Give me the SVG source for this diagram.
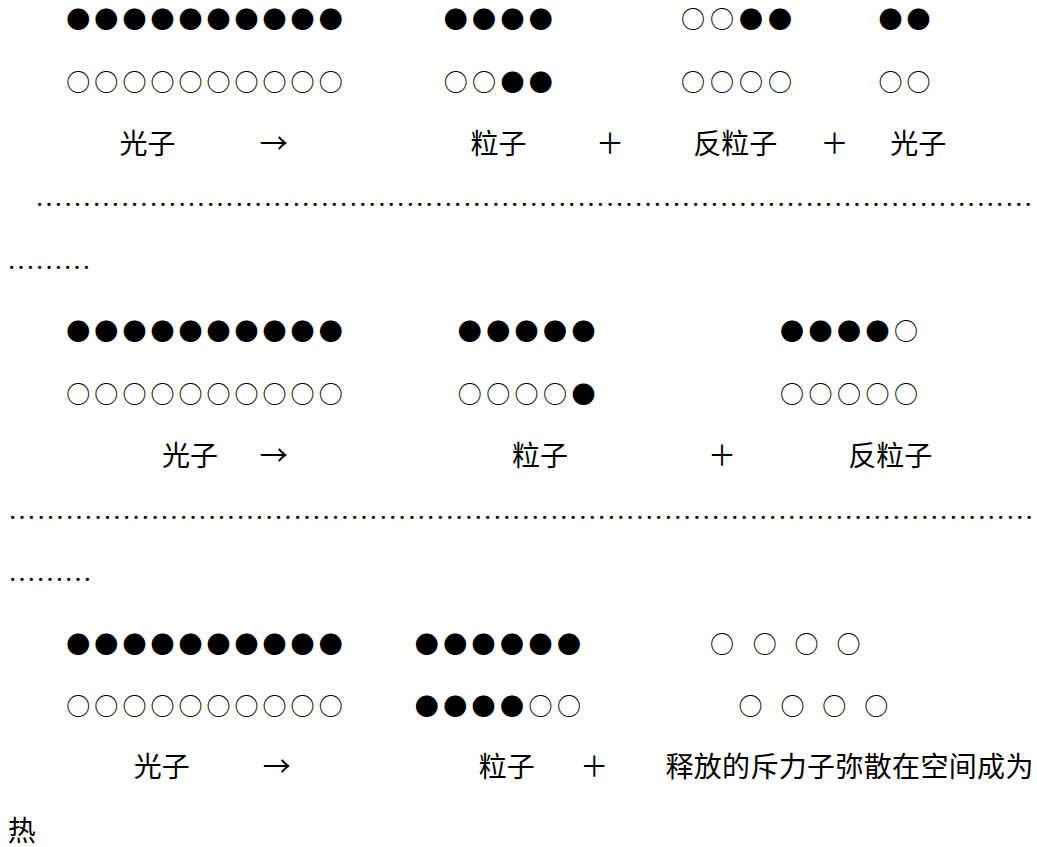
<svg xmlns="http://www.w3.org/2000/svg" width="1037" height="847" viewBox="0 0 1037 847">
<style>
.t{font-family:"Noto Sans CJK SC","Noto Sans CJK JP",sans-serif;font-size:28px;fill:#000;}
.m{text-anchor:middle;}
.c{font-family:"Noto Sans CJK SC","Noto Sans CJK JP",sans-serif;font-size:24px;fill:#000;text-anchor:middle;}
.d{font-family:"Liberation Serif","Times New Roman",serif;font-size:28px;fill:#000;}
</style>
<rect width="1037" height="847" fill="#fff"/>
<g id="block1">
  <g id="b1-row1">
    <text class="c" x="78.3 106.3 134.4 162.4 190.5 218.5 246.5 274.6 302.6 330.7" y="28.3">●●●●●●●●●●</text>
    <text class="c" x="455.8 484.1 512.4 540.7" y="28.3">●●●●</text>
    <text class="c" x="693 722 751 780" y="28.3">○○●●</text>
    <text class="c" x="890.4 918.5" y="28.3">●●</text>
  </g>
  <g id="b1-row2">
    <text class="c" x="78.3 106.3 134.4 162.4 190.5 218.5 246.5 274.6 302.6 330.7" y="90.8">○○○○○○○○○○</text>
    <text class="c" x="455.8 484.1 512.4 540.7" y="90.8">○○●●</text>
    <text class="c" x="693 722 751 780" y="90.8">○○○○</text>
    <text class="c" x="890.4 918.5" y="90.8">○○</text>
  </g>
  <g id="b1-labels">
    <text class="t m" x="147.5" y="154">光子</text>
    <text class="t m" x="273.7" y="154">→</text>
    <text class="t m" x="498.4" y="154">粒子</text>
    <text class="t m" x="610" y="154">＋</text>
    <text class="t m" x="735.3" y="154">反粒子</text>
    <text class="t m" x="834.6" y="154">＋</text>
    <text class="t m" x="918.3" y="154">光子</text>
  </g>
  <g id="b1-separator">
    <text class="d" x="35" y="206.1" letter-spacing="0.52">&#8230;&#8230;&#8230;&#8230;&#8230;&#8230;&#8230;&#8230;&#8230;&#8230;&#8230;&#8230;&#8230;&#8230;&#8230;&#8230;&#8230;&#8230;&#8230;&#8230;&#8230;&#8230;&#8230;&#8230;&#8230;&#8230;&#8230;&#8230;&#8230;&#8230;&#8230;&#8230;&#8230;&#8230;&#8230;</text>
    <text class="d" x="7" y="269.1">&#8230;&#8230;&#8230;</text>
  </g>
</g>
<g id="block2">
  <g id="b2-row1">
    <text class="c" x="78.3 106.3 134.4 162.4 190.5 218.5 246.5 274.6 302.6 330.7" y="340">●●●●●●●●●●</text>
    <text class="c" x="469.8 498.2 526.6 555 583.4" y="340">●●●●●</text>
    <text class="c" x="792 820.5 849 877.5 906" y="340">●●●●○</text>
  </g>
  <g id="b2-row2">
    <text class="c" x="78.3 106.3 134.4 162.4 190.5 218.5 246.5 274.6 302.6 330.7" y="403">○○○○○○○○○○</text>
    <text class="c" x="469.8 498.2 526.6 555 583.4" y="403">○○○○●</text>
    <text class="c" x="792 820.5 849 877.5 906" y="403">○○○○○</text>
  </g>
  <g id="b2-labels">
    <text class="t m" x="190" y="465.6">光子</text>
    <text class="t m" x="273.7" y="465.6">→</text>
    <text class="t m" x="540" y="465.6">粒子</text>
    <text class="t m" x="722.1" y="465.6">＋</text>
    <text class="t m" x="890.3" y="465.6">反粒子</text>
  </g>
  <g id="b2-separator">
    <text class="d" x="8" y="518.5" letter-spacing="0.51">&#8230;&#8230;&#8230;&#8230;&#8230;&#8230;&#8230;&#8230;&#8230;&#8230;&#8230;&#8230;&#8230;&#8230;&#8230;&#8230;&#8230;&#8230;&#8230;&#8230;&#8230;&#8230;&#8230;&#8230;&#8230;&#8230;&#8230;&#8230;&#8230;&#8230;&#8230;&#8230;&#8230;&#8230;&#8230;&#8230;</text>
    <text class="d" x="8" y="581.1">&#8230;&#8230;&#8230;</text>
  </g>
</g>
<g id="block3">
  <g id="b3-row1">
    <text class="c" x="78.3 106.3 134.4 162.4 190.5 218.5 246.5 274.6 302.6 330.7" y="652.5">●●●●●●●●●●</text>
    <text class="c" x="426.7 455.2 483.6 512.1 540.5 569" y="652.5">●●●●●●</text>
    <text class="c" x="722.1 764.7 806.5 848.5" y="652.5">○○○○</text>
  </g>
  <g id="b3-row2">
    <text class="c" x="78.3 106.3 134.4 162.4 190.5 218.5 246.5 274.6 302.6 330.7" y="715.2">○○○○○○○○○○</text>
    <text class="c" x="426.7 455.2 483.6 512.1 540.5 569" y="715.2">●●●●○○</text>
    <text class="c" x="750.4 792.4 834.3 876.3" y="715.2">○○○○</text>
  </g>
  <g id="b3-labels">
    <text class="t m" x="161.7" y="777.3">光子</text>
    <text class="t m" x="276.7" y="777.3">→</text>
    <text class="t m" x="506.7" y="777.3">粒子</text>
    <text class="t m" x="594.3" y="777.3">＋</text>
    <text class="t" x="665.4" y="777.3" textLength="368" lengthAdjust="spacing">释放的斥力子弥散在空间成为</text>
    <text class="t m" x="21.7" y="841">热</text>
  </g>
</g>
</svg>
